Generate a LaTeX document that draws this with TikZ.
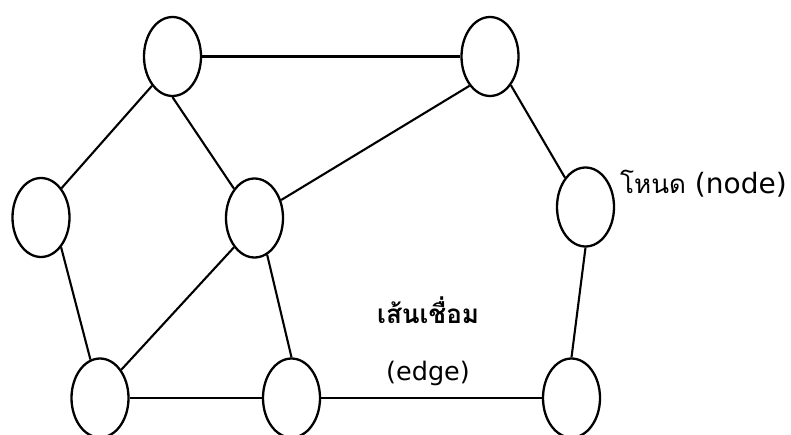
\documentclass[tikz,border=0pt]{standalone}
\usepackage{fontspec}
\newfontfamily\thaifont[Script=Thai]{Loma}
\newfontfamily\latfont{DejaVu Sans}
\usetikzlibrary{shapes.geometric}
\begin{document}
\begin{tikzpicture}[x=1pt,y=-1pt,
  vtx/.style={draw,ellipse,line width=2.3pt,minimum width=57pt,minimum height=79pt,inner sep=0pt,fill=white},
  edg/.style={line width=2.1pt},
  lbl/.style={inner sep=0pt,anchor=base west}]
\useasboundingbox (0,0) rectangle (791,435);
\node[vtx] (tl) at (172.5,56.5) {};
\node[vtx] (tr) at (490,56.5) {};
\node[vtx] (l) at (41,217.5) {};
\node[vtx] (m) at (254.5,218) {};
\node[vtx] (r) at (585.5,207) {};
\node[vtx] (bl) at (100,398) {};
\node[vtx] (bm) at (291.5,398) {};
\node[vtx] (br) at (571.5,398) {};
\draw[edg] (tl.east) -- (tr.west);
\draw[edg] (tl.-125) -- (l.55);
\draw[edg] (tl.south) -- (m.125);
\draw[edg] (tr.-125) -- (m.34);
\draw[edg] (tr.-54) -- (r.125);
\draw[edg] (l.-56) -- (bl.104);
\draw[edg] (m.-125) -- (bl.53);
\draw[edg] (m.-71) -- (bm.north);
\draw[edg] (bl.east) -- (bm.west);
\draw[edg] (bm.east) -- (br.west);
\draw[edg] (r.south) -- (br.north);
\node[lbl] (t1) at (620,194) {{\thaifont\fontsize{26}{30}\selectfont โหนด}\hspace{9pt}{\latfont\fontsize{28}{32}\selectfont (node)}};
\node[lbl,font=\thaifont\bfseries\fontsize{26}{30}\selectfont] (t2) at (377,323) {เส้นเชื่อม};
\node[lbl,font=\latfont\fontsize{25.5}{30}\selectfont] (t3) at (386,380) {(edge)};
\end{tikzpicture}
\end{document}
